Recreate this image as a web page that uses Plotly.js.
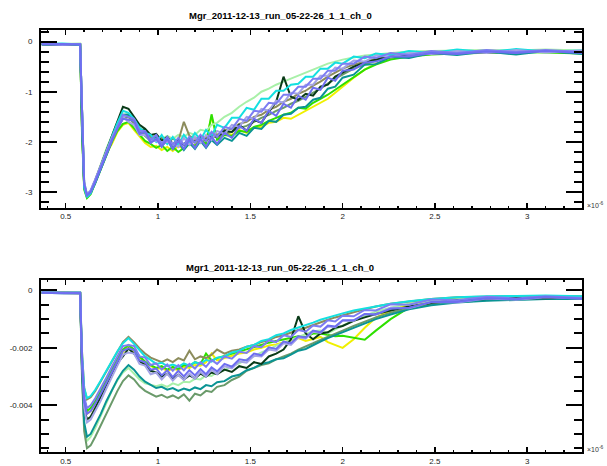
<!DOCTYPE html>
<html><head><meta charset="utf-8">
<script src="https://cdn.plot.ly/plotly-3.0.1.min.js"></script>
<style>html,body{margin:0;padding:0;background:#fff;}</style>
</head><body><div id="chart" style="width:607px;height:466px;"></div>
<script>
// time axis (units of 1e-6)
const T = [0.37,0.48,0.578,0.588,0.600,0.615,0.635,0.66,0.69,0.72,0.75,0.78,0.81,0.84,0.87,0.90,0.93,0.96,0.99,1.02,1.05,1.08,1.11,1.14,1.17,1.20,1.23,1.26,1.29,1.32,1.36,1.40,1.44,1.48,1.52,1.56,1.60,1.64,1.68,1.72,1.76,1.80,1.84,1.88,1.92,1.96,2.00,2.06,2.12,2.18,2.26,2.36,2.48,2.62,2.78,2.94,3.10,3.30];

const colors = ['#f0f000','#2ee000','#a8f0a8','#8c8c5c','#6a9a6a','#0a9494','#0a3a18','#14e0e0','#a3a3e6','#7d7df2','#6e6ef0'];
const names = ['yellow','green','palegreen','olive','greygreen','teal','darkgreen','cyan','lavender','blue2','blue'];

// Top panel: Mgr
const topYellow = [-0.05,-0.06,-0.07,-1.7,-2.9,-3.06,-3.0,-2.8,-2.5,-2.22,-2.04,-1.8,-1.66,-1.62,-1.76,-1.9,-2.02,-2.1,-2.08,-2.16,-2.1,-2.18,-2.08,-2.14,-2.04,-2.06,-1.9,-1.98,-1.5,-1.92,-1.82,-1.86,-1.76,-1.82,-1.72,-1.7,-1.62,-1.6,-1.52,-1.54,-1.46,-1.38,-1.3,-1.22,-1.14,-1.02,-0.9,-0.72,-0.56,-0.44,-0.34,-0.29,-0.25,-0.23,-0.21,-0.22,-0.2,-0.22];
const topGreen = [-0.06,-0.05,-0.06,-1.8,-2.95,-3.12,-3.04,-2.82,-2.54,-2.26,-2.0,-1.78,-1.64,-1.6,-1.72,-1.86,-1.98,-2.04,-2.12,-2.06,-2.18,-2.1,-2.2,-2.12,-2.04,-2.08,-1.96,-2.04,-1.45,-1.96,-1.86,-1.88,-1.78,-1.8,-1.7,-1.66,-1.58,-1.52,-1.46,-1.42,-1.32,-1.34,-1.22,-1.14,-1.06,-0.96,-0.86,-0.7,-0.56,-0.46,-0.36,-0.3,-0.26,-0.24,-0.23,-0.21,-0.22,-0.24];
const topPaleGreen = [-0.04,-0.05,-0.04,-1.4,-2.8,-3.04,-2.98,-2.76,-2.44,-2.14,-1.88,-1.6,-1.46,-1.44,-1.6,-1.72,-1.8,-1.88,-1.86,-1.94,-1.88,-1.94,-1.86,-1.9,-1.82,-1.86,-1.76,-1.78,-1.66,-1.62,-1.5,-1.42,-1.3,-1.2,-1.12,-1.0,-0.94,-0.86,-0.8,-0.74,-0.68,-0.62,-0.56,-0.5,-0.44,-0.4,-0.36,-0.32,-0.28,-0.26,-0.23,-0.2,-0.19,-0.18,-0.17,-0.18,-0.16,-0.18];
const topOlive = [-0.05,-0.06,-0.06,-1.6,-2.88,-3.08,-3.0,-2.78,-2.5,-2.2,-1.94,-1.68,-1.48,-1.46,-1.6,-1.74,-1.84,-1.9,-1.96,-1.92,-2.0,-1.94,-1.98,-1.6,-1.88,-1.94,-1.88,-1.92,-1.84,-1.86,-1.76,-1.74,-1.64,-1.6,-1.5,-1.46,-1.36,-1.3,-1.2,-1.14,-1.04,-0.98,-0.88,-0.8,-0.7,-0.62,-0.54,-0.46,-0.4,-0.34,-0.3,-0.26,-0.24,-0.22,-0.2,-0.21,-0.19,-0.21];
const topGreyGreen = [-0.06,-0.05,-0.06,-1.7,-2.92,-3.1,-3.02,-2.8,-2.52,-2.24,-1.98,-1.72,-1.54,-1.5,-1.64,-1.8,-1.88,-1.98,-1.96,-2.04,-2.0,-2.06,-2.0,-2.04,-1.98,-2.0,-1.94,-1.98,-1.9,-1.9,-1.84,-1.8,-1.72,-1.68,-1.6,-1.52,-1.46,-1.38,-1.32,-1.24,-1.18,-1.1,-1.02,-0.94,-0.84,-0.74,-0.66,-0.54,-0.46,-0.38,-0.32,-0.28,-0.25,-0.23,-0.22,-0.2,-0.21,-0.22];
const topTeal = [-0.06,-0.06,-0.07,-1.7,-2.9,-3.08,-3.02,-2.82,-2.54,-2.24,-1.96,-1.7,-1.46,-1.46,-1.52,-1.76,-1.76,-1.98,-1.88,-2.08,-1.96,-2.14,-2.0,-2.16,-2.02,-2.14,-1.98,-2.12,-1.96,-2.06,-1.92,-1.98,-1.82,-1.88,-1.72,-1.74,-1.58,-1.6,-1.46,-1.44,-1.32,-1.3,-1.16,-1.12,-0.94,-0.9,-0.72,-0.66,-0.46,-0.45,-0.31,-0.33,-0.23,-0.27,-0.2,-0.26,-0.19,-0.25];
const topDarkGreen = [-0.05,-0.06,-0.05,-1.5,-2.85,-3.06,-2.98,-2.76,-2.46,-2.2,-1.86,-1.56,-1.3,-1.34,-1.5,-1.66,-1.74,-1.86,-1.84,-1.98,-1.9,-2.04,-1.96,-2.06,-1.92,-2.0,-1.9,-1.96,-1.86,-1.9,-1.78,-1.8,-1.66,-1.78,-1.56,-1.62,-1.4,-1.2,-0.7,-1.1,-1.16,-1.04,-1.08,-0.9,-0.86,-0.7,-0.62,-0.5,-0.42,-0.36,-0.3,-0.26,-0.24,-0.2,-0.22,-0.19,-0.21,-0.2];
const topCyan = [-0.05,-0.04,-0.06,-1.5,-2.9,-3.1,-3.02,-2.78,-2.48,-2.16,-1.9,-1.62,-1.38,-1.42,-1.54,-1.72,-1.82,-1.86,-2.0,-1.86,-2.04,-1.9,-2.06,-1.86,-2.0,-1.82,-1.96,-1.76,-1.88,-1.66,-1.72,-1.52,-1.52,-1.32,-1.36,-1.14,-1.14,-0.98,-0.98,-0.86,-0.84,-0.7,-0.7,-0.54,-0.54,-0.42,-0.44,-0.3,-0.33,-0.24,-0.27,-0.19,-0.23,-0.16,-0.21,-0.15,-0.2,-0.18];
const topLavender = [-0.04,-0.07,-0.05,-1.4,-2.8,-3.05,-2.96,-2.74,-2.46,-2.18,-1.92,-1.7,-1.5,-1.6,-1.66,-1.86,-1.86,-1.96,-1.98,-2.0,-2.0,-2.02,-2.1,-1.92,-2.06,-1.9,-2.02,-1.86,-1.96,-1.78,-1.84,-1.66,-1.7,-1.5,-1.54,-1.34,-1.38,-1.18,-1.22,-1.02,-1.04,-0.86,-0.86,-0.68,-0.68,-0.52,-0.54,-0.38,-0.4,-0.28,-0.31,-0.23,-0.25,-0.19,-0.23,-0.17,-0.22,-0.18];
const topBlue2 = [-0.05,-0.06,-0.05,-1.5,-2.82,-3.05,-2.98,-2.76,-2.48,-2.2,-1.94,-1.7,-1.46,-1.5,-1.54,-1.78,-1.78,-1.96,-1.86,-2.04,-1.9,-2.06,-1.92,-2.06,-1.9,-2.02,-1.86,-1.98,-1.8,-1.9,-1.7,-1.74,-1.54,-1.58,-1.38,-1.4,-1.22,-1.24,-1.06,-1.06,-0.9,-0.9,-0.74,-0.74,-0.58,-0.58,-0.44,-0.44,-0.3,-0.33,-0.23,-0.27,-0.19,-0.23,-0.17,-0.21,-0.17,-0.21];
const topBlue = [-0.06,-0.05,-0.06,-1.6,-2.85,-3.07,-3.0,-2.8,-2.52,-2.22,-1.98,-1.74,-1.54,-1.56,-1.58,-1.84,-1.8,-2.02,-1.94,-2.1,-1.94,-2.14,-1.98,-2.14,-1.96,-2.12,-1.94,-2.1,-1.9,-2.04,-1.82,-1.92,-1.68,-1.78,-1.54,-1.62,-1.38,-1.48,-1.24,-1.32,-1.08,-1.16,-0.92,-0.96,-0.72,-0.78,-0.58,-0.56,-0.42,-0.4,-0.3,-0.3,-0.23,-0.25,-0.2,-0.23,-0.19,-0.23];

// Bottom panel: Mgr1
const botYellow = [-0.08e-3,-0.08e-3,-0.09e-3,-2.5e-3,-3.9e-3,-4.3e-3,-4.2e-3,-3.96e-3,-3.6e-3,-3.2e-3,-2.82e-3,-2.44e-3,-2.14e-3,-1.96e-3,-2.12e-3,-2.34e-3,-2.52e-3,-2.64e-3,-2.74e-3,-2.7e-3,-2.8e-3,-2.72e-3,-2.78e-3,-2.66e-3,-2.7e-3,-2.6e-3,-2.62e-3,-2.5e-3,-2.2e-3,-2.44e-3,-2.36e-3,-2.3e-3,-2.2e-3,-2.16e-3,-2.06e-3,-2.0e-3,-1.92e-3,-1.88e-3,-1.8e-3,-1.74e-3,-1.66e-3,-1.76e-3,-1.7e-3,-1.62e-3,-1.8e-3,-1.9e-3,-2.0e-3,-1.7e-3,-1.3e-3,-0.95e-3,-0.7e-3,-0.48e-3,-0.36e-3,-0.28e-3,-0.24e-3,-0.22e-3,-0.21e-3,-0.22e-3];
const botGreen = [-0.07e-3,-0.08e-3,-0.08e-3,-2.4e-3,-3.8e-3,-4.2e-3,-4.1e-3,-3.86e-3,-3.5e-3,-3.12e-3,-2.74e-3,-2.36e-3,-2.06e-3,-1.9e-3,-2.06e-3,-2.3e-3,-2.48e-3,-2.6e-3,-2.7e-3,-2.64e-3,-2.76e-3,-2.66e-3,-2.74e-3,-2.6e-3,-2.64e-3,-2.5e-3,-2.56e-3,-2.2e-3,-2.44e-3,-2.36e-3,-2.28e-3,-2.2e-3,-2.14e-3,-2.04e-3,-1.96e-3,-1.9e-3,-1.82e-3,-1.76e-3,-1.7e-3,-1.66e-3,-1.6e-3,-1.62e-3,-1.5e-3,-1.5e-3,-1.56e-3,-1.6e-3,-1.58e-3,-1.66e-3,-1.72e-3,-1.4e-3,-1.0e-3,-0.6e-3,-0.42e-3,-0.3e-3,-0.26e-3,-0.24e-3,-0.22e-3,-0.24e-3];
const botPaleGreen = [-0.07e-3,-0.08e-3,-0.08e-3,-2.8e-3,-4.7e-3,-5.25e-3,-5.1e-3,-4.8e-3,-4.36e-3,-3.9e-3,-3.5e-3,-3.14e-3,-2.86e-3,-2.7e-3,-2.9e-3,-3.1e-3,-3.24e-3,-3.3e-3,-3.34e-3,-3.28e-3,-3.36e-3,-3.24e-3,-3.3e-3,-3.18e-3,-3.2e-3,-3.08e-3,-3.1e-3,-2.96e-3,-2.98e-3,-2.84e-3,-2.78e-3,-2.64e-3,-2.54e-3,-2.4e-3,-2.3e-3,-2.16e-3,-2.06e-3,-1.92e-3,-1.82e-3,-1.7e-3,-1.6e-3,-1.5e-3,-1.42e-3,-1.4e-3,-1.5e-3,-1.36e-3,-1.22e-3,-1.04e-3,-0.88e-3,-0.74e-3,-0.6e-3,-0.46e-3,-0.36e-3,-0.3e-3,-0.26e-3,-0.24e-3,-0.23e-3,-0.24e-3];
const botOlive = [-0.06e-3,-0.07e-3,-0.07e-3,-2.1e-3,-3.4e-3,-3.8e-3,-3.72e-3,-3.5e-3,-3.16e-3,-2.8e-3,-2.44e-3,-2.1e-3,-1.8e-3,-1.62e-3,-1.8e-3,-2.02e-3,-2.2e-3,-2.34e-3,-2.42e-3,-2.5e-3,-2.4e-3,-2.5e-3,-2.36e-3,-2.44e-3,-2.1e-3,-2.4e-3,-2.3e-3,-2.36e-3,-2.24e-3,-2.06e-3,-2.2e-3,-2.1e-3,-2.06e-3,-1.96e-3,-1.9e-3,-1.8e-3,-1.74e-3,-1.62e-3,-1.56e-3,-1.46e-3,-1.38e-3,-1.3e-3,-1.2e-3,-1.12e-3,-1.02e-3,-0.94e-3,-0.86e-3,-0.76e-3,-0.66e-3,-0.56e-3,-0.46e-3,-0.38e-3,-0.3e-3,-0.24e-3,-0.21e-3,-0.2e-3,-0.19e-3,-0.2e-3];
const botGreyGreen = [-0.08e-3,-0.09e-3,-0.09e-3,-3.0e-3,-4.9e-3,-5.5e-3,-5.4e-3,-5.1e-3,-4.7e-3,-4.26e-3,-3.86e-3,-3.5e-3,-3.16e-3,-2.96e-3,-3.1e-3,-3.34e-3,-3.5e-3,-3.6e-3,-3.7e-3,-3.64e-3,-3.74e-3,-3.66e-3,-3.76e-3,-3.62e-3,-3.84e-3,-3.6e-3,-3.66e-3,-3.5e-3,-3.54e-3,-3.36e-3,-3.3e-3,-3.12e-3,-3.0e-3,-2.8e-3,-2.7e-3,-2.6e-3,-2.54e-3,-2.4e-3,-2.3e-3,-2.2e-3,-2.06e-3,-1.96e-3,-1.84e-3,-1.72e-3,-1.62e-3,-1.5e-3,-1.4e-3,-1.24e-3,-1.08e-3,-0.94e-3,-0.78e-3,-0.62e-3,-0.48e-3,-0.4e-3,-0.34e-3,-0.3e-3,-0.29e-3,-0.3e-3];
const botTeal = [-0.08e-3,-0.1e-3,-0.09e-3,-2.8e-3,-4.6e-3,-5.1e-3,-5.0e-3,-4.7e-3,-4.3e-3,-3.86e-3,-3.46e-3,-3.1e-3,-2.8e-3,-2.6e-3,-2.76e-3,-3.0e-3,-3.18e-3,-3.3e-3,-3.4e-3,-3.36e-3,-3.46e-3,-3.4e-3,-3.5e-3,-3.42e-3,-3.48e-3,-3.38e-3,-3.44e-3,-3.3e-3,-3.34e-3,-3.2e-3,-3.16e-3,-3.0e-3,-2.94e-3,-2.78e-3,-2.7e-3,-2.56e-3,-2.5e-3,-2.4e-3,-2.36e-3,-2.24e-3,-2.1e-3,-2.04e-3,-1.9e-3,-1.78e-3,-1.66e-3,-1.56e-3,-1.46e-3,-1.3e-3,-1.14e-3,-1.0e-3,-0.84e-3,-0.66e-3,-0.52e-3,-0.42e-3,-0.36e-3,-0.32e-3,-0.3e-3,-0.3e-3];
const botDarkGreen = [-0.08e-3,-0.09e-3,-0.1e-3,-2.6e-3,-4.1e-3,-4.5e-3,-4.4e-3,-4.1e-3,-3.72e-3,-3.3e-3,-2.9e-3,-2.52e-3,-2.3e-3,-2.02e-3,-2.2e-3,-2.46e-3,-2.6e-3,-2.8e-3,-2.86e-3,-3.0e-3,-2.9e-3,-3.06e-3,-2.94e-3,-3.1e-3,-2.96e-3,-3.06e-3,-2.9e-3,-3.0e-3,-2.86e-3,-2.92e-3,-2.76e-3,-2.84e-3,-2.64e-3,-2.7e-3,-2.5e-3,-2.56e-3,-2.3e-3,-2.2e-3,-2.06e-3,-1.7e-3,-0.9e-3,-1.5e-3,-1.7e-3,-1.5e-3,-1.46e-3,-1.3e-3,-1.24e-3,-1.06e-3,-0.94e-3,-0.82e-3,-0.7e-3,-0.56e-3,-0.44e-3,-0.34e-3,-0.3e-3,-0.26e-3,-0.27e-3,-0.25e-3];
const botCyan = [-0.06e-3,-0.08e-3,-0.07e-3,-2.2e-3,-3.4e-3,-3.75e-3,-3.68e-3,-3.46e-3,-3.14e-3,-2.8e-3,-2.46e-3,-2.12e-3,-1.84e-3,-1.66e-3,-1.86e-3,-2.1e-3,-2.3e-3,-2.42e-3,-2.56e-3,-2.52e-3,-2.64e-3,-2.58e-3,-2.66e-3,-2.54e-3,-2.62e-3,-2.5e-3,-2.56e-3,-2.42e-3,-2.48e-3,-2.34e-3,-2.3e-3,-2.16e-3,-2.1e-3,-1.96e-3,-1.9e-3,-1.76e-3,-1.7e-3,-1.56e-3,-1.5e-3,-1.38e-3,-1.3e-3,-1.2e-3,-1.12e-3,-1.02e-3,-0.94e-3,-0.86e-3,-0.8e-3,-0.7e-3,-0.62e-3,-0.54e-3,-0.46e-3,-0.38e-3,-0.3e-3,-0.24e-3,-0.2e-3,-0.19e-3,-0.18e-3,-0.2e-3];
const botLavender = [-0.07e-3,-0.09e-3,-0.08e-3,-2.5e-3,-4.1e-3,-4.6e-3,-4.5e-3,-4.22e-3,-3.84e-3,-3.42e-3,-3.0e-3,-2.62e-3,-2.24e-3,-2.16e-3,-2.2e-3,-2.56e-3,-2.62e-3,-2.92e-3,-2.86e-3,-3.1e-3,-2.9e-3,-3.14e-3,-2.94e-3,-3.12e-3,-2.9e-3,-3.08e-3,-2.84e-3,-3.0e-3,-2.76e-3,-2.92e-3,-2.64e-3,-2.72e-3,-2.48e-3,-2.52e-3,-2.28e-3,-2.3e-3,-2.06e-3,-2.1e-3,-1.84e-3,-1.9e-3,-1.64e-3,-1.68e-3,-1.44e-3,-1.48e-3,-1.26e-3,-1.28e-3,-1.06e-3,-1.06e-3,-0.82e-3,-0.84e-3,-0.6e-3,-0.62e-3,-0.4e-3,-0.42e-3,-0.28e-3,-0.32e-3,-0.24e-3,-0.28e-3];
const botBlue2 = [-0.07e-3,-0.08e-3,-0.08e-3,-2.3e-3,-3.7e-3,-4.1e-3,-4.0e-3,-3.76e-3,-3.42e-3,-3.04e-3,-2.66e-3,-2.3e-3,-1.94e-3,-1.9e-3,-1.94e-3,-2.3e-3,-2.34e-3,-2.6e-3,-2.54e-3,-2.76e-3,-2.58e-3,-2.8e-3,-2.6e-3,-2.78e-3,-2.56e-3,-2.72e-3,-2.5e-3,-2.66e-3,-2.42e-3,-2.56e-3,-2.3e-3,-2.38e-3,-2.14e-3,-2.18e-3,-1.94e-3,-1.98e-3,-1.74e-3,-1.8e-3,-1.56e-3,-1.62e-3,-1.38e-3,-1.44e-3,-1.22e-3,-1.26e-3,-1.04e-3,-1.08e-3,-0.88e-3,-0.9e-3,-0.68e-3,-0.7e-3,-0.48e-3,-0.5e-3,-0.32e-3,-0.34e-3,-0.22e-3,-0.28e-3,-0.2e-3,-0.26e-3];
const botBlue = [-0.08e-3,-0.1e-3,-0.09e-3,-2.4e-3,-3.9e-3,-4.3e-3,-4.2e-3,-3.95e-3,-3.6e-3,-3.22e-3,-2.84e-3,-2.46e-3,-2.1e-3,-2.02e-3,-2.08e-3,-2.44e-3,-2.5e-3,-2.76e-3,-2.72e-3,-2.96e-3,-2.78e-3,-3.02e-3,-2.8e-3,-3.0e-3,-2.78e-3,-2.96e-3,-2.74e-3,-2.92e-3,-2.68e-3,-2.82e-3,-2.56e-3,-2.66e-3,-2.4e-3,-2.44e-3,-2.2e-3,-2.26e-3,-1.98e-3,-2.04e-3,-1.78e-3,-1.84e-3,-1.6e-3,-1.64e-3,-1.4e-3,-1.46e-3,-1.22e-3,-1.26e-3,-1.04e-3,-1.04e-3,-0.82e-3,-0.84e-3,-0.64e-3,-0.6e-3,-0.4e-3,-0.4e-3,-0.27e-3,-0.31e-3,-0.23e-3,-0.29e-3];

const topSeries = [topYellow,topGreen,topPaleGreen,topOlive,topGreyGreen,topTeal,topDarkGreen,topCyan,topLavender,topBlue2,topBlue];
const botSeries = [botYellow,botGreen,botPaleGreen,botOlive,botGreyGreen,botTeal,botDarkGreen,botCyan,botLavender,botBlue2,botBlue];

const titles = ['Mgr_2011-12-13_run_05-22-26_1_1_ch_0','Mgr1_2011-12-13_run_05-22-26_1_1_ch_0'];
const xTickVals = [0.5,1,1.5,2,2.5,3];
const xTickText = ['0.5','1','1.5','2','2.5','3'];
const topYTickVals = [0,-1,-2,-3];
const topYTickText = ['0','-1','-2','-3'];
const botYTickVals = [0,-0.002,-0.004];
const botYTickText = ['0','-0.002','-0.004'];

const traces = [];
topSeries.forEach((s,i)=>traces.push({x:T,y:s,xaxis:'x',yaxis:'y',type:'scatter',mode:'lines',name:names[i],line:{color:colors[i],width:2},hoverinfo:'skip'}));
botSeries.forEach((s,i)=>traces.push({x:T,y:s,xaxis:'x2',yaxis:'y2',type:'scatter',mode:'lines',name:names[i],line:{color:colors[i],width:2},hoverinfo:'skip'}));

const tickFont = {family:'Liberation Sans, Arial, sans-serif', size:8, color:'#222'};
function xAx(anchor){
  return {anchor:anchor, domain:[0,1], range:[0.366,3.297], showgrid:false, zeroline:false,
    showline:true, linecolor:'#000', linewidth:2, mirror:'ticks',
    ticks:'inside', ticklen:5, tickwidth:1.5, tickcolor:'#000',
    tickmode:'array', tickvals:xTickVals, ticktext:xTickText, tickfont:tickFont,
    minor:{ticks:'inside', ticklen:2, tickwidth:1.5, tickcolor:'#000', tickmode:'linear', tick0:0, dtick:0.1},
    automargin:false, fixedrange:true};
}
function yAx(anchor, dom, rng, tv, tt, mdt){
  return {anchor:anchor, domain:dom, range:rng, showgrid:false, zeroline:false,
    showline:true, linecolor:'#000', linewidth:2, mirror:'ticks',
    ticks:'inside', ticklen:16, tickwidth:2, tickcolor:'#000',
    tickmode:'array', tickvals:tv, ticktext:tt, tickfont:tickFont, ticklabelstandoff:5,
    minor:{ticks:'inside', ticklen:8, tickwidth:2, tickcolor:'#000', tickmode:'linear', tick0:0, dtick:mdt},
    automargin:false, fixedrange:true};
}

const layout = {
  width:607, height:466, margin:{l:41, r:25, t:30, b:14},
  paper_bgcolor:'#fff', plot_bgcolor:'#fff', showlegend:false,
  xaxis: xAx('y'),
  yaxis: yAx('x',[0.579,1],[-3.31,0.23],topYTickVals,topYTickText,0.2),
  xaxis2: xAx('y2'),
  yaxis2: yAx('x2',[0,0.408],[-0.00563,0.00037],botYTickVals,botYTickText,0.0005),
  annotations:[
    {text:'<b>'+titles[0]+'</b>', xref:'paper', yref:'paper', x:0.4418, y:1.0355, xanchor:'center', yanchor:'middle', showarrow:false, font:{family:'Liberation Sans, Arial, sans-serif', size:9.5, color:'#000'}},
    {text:'<b>'+titles[1]+'</b>', xref:'paper', yref:'paper', x:0.4418, y:0.4372, xanchor:'center', yanchor:'middle', showarrow:false, font:{family:'Liberation Sans, Arial, sans-serif', size:9.5, color:'#000'}},
    {text:'×10<sup>-6</sup>', xref:'paper', yref:'paper', x:1.006, y:0.586, xanchor:'left', yanchor:'middle', showarrow:false, font:{family:'Liberation Sans, Arial, sans-serif', size:7, color:'#333'}},
    {text:'×10<sup>-6</sup>', xref:'paper', yref:'paper', x:1.006, y:0.008, xanchor:'left', yanchor:'middle', showarrow:false, font:{family:'Liberation Sans, Arial, sans-serif', size:7, color:'#333'}}
  ]
};

Plotly.newPlot('chart', traces, layout, {staticPlot:true, displayModeBar:false});
</script></body></html>
